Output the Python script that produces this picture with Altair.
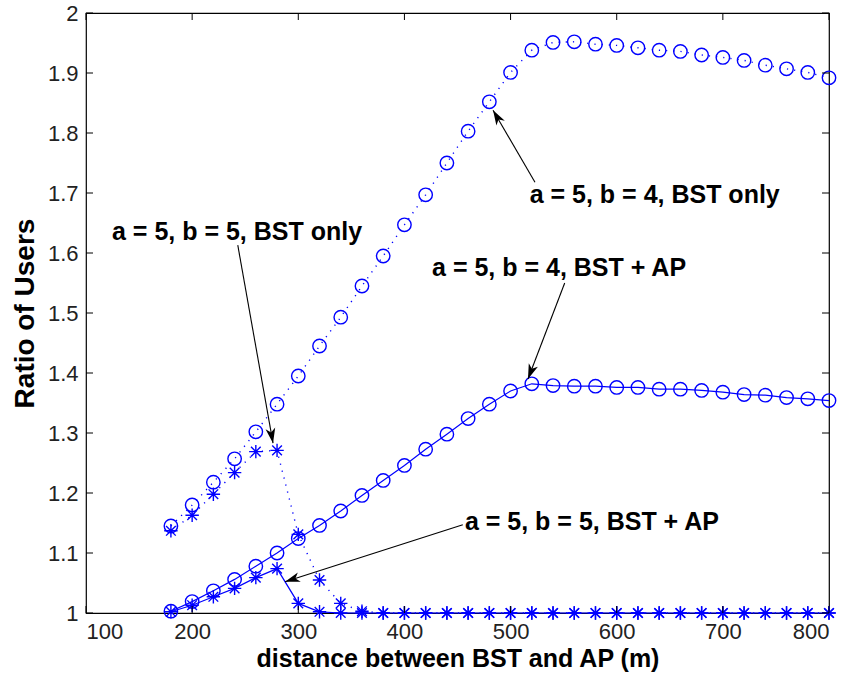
import math
import altair as alt
import pandas as pd

# Distance between base station (BST) and access point (m)
distance = [180, 200, 220, 240, 260, 280, 300, 320, 340, 360, 380, 400, 420, 440, 460, 480,
            500, 520, 540, 560, 580, 600, 620, 640, 660, 680, 700, 720, 740, 760, 780, 800]

# a = 5, b = 4, BST only
ratio_b4_bst = [1.145, 1.180, 1.218, 1.257, 1.302, 1.348, 1.395, 1.445, 1.493, 1.545, 1.595,
                1.647, 1.697, 1.750, 1.803, 1.852, 1.901, 1.938, 1.951, 1.952, 1.948, 1.946,
                1.942, 1.938, 1.936, 1.930, 1.926, 1.921, 1.913, 1.907, 1.901, 1.892]
# a = 5, b = 4, BST + AP
ratio_b4_bst_ap = [1.003, 1.019, 1.037, 1.056, 1.078, 1.100, 1.124, 1.146, 1.170, 1.196, 1.221,
                   1.246, 1.273, 1.298, 1.324, 1.348, 1.370, 1.382, 1.379, 1.378, 1.378, 1.376,
                   1.376, 1.373, 1.373, 1.371, 1.368, 1.364, 1.363, 1.359, 1.357, 1.354]
# a = 5, b = 5, BST only
ratio_b5_bst = [1.137, 1.163, 1.198, 1.234, 1.269, 1.271, 1.131, 1.055, 1.016, 1.003, 1.000,
                1.000, 1.000, 1.000, 1.000, 1.000, 1.000, 1.000, 1.000, 1.000, 1.000, 1.000,
                1.000, 1.000, 1.000, 1.000, 1.000, 1.000, 1.000, 1.000, 1.000, 1.000]
# a = 5, b = 5, BST + AP
ratio_b5_bst_ap = [1.002, 1.013, 1.027, 1.041, 1.059, 1.074, 1.016, 1.002, 1.000, 1.000, 1.000,
                   1.000, 1.000, 1.000, 1.000, 1.000, 1.000, 1.000, 1.000, 1.000, 1.000, 1.000,
                   1.000, 1.000, 1.000, 1.000, 1.000, 1.000, 1.000, 1.000, 1.000, 1.000]

x_ticks = [100, 200, 300, 400, 500, 600, 700, 800]
y_ticks = [1.0, 1.1, 1.2, 1.3, 1.4, 1.5, 1.6, 1.7, 1.8, 1.9, 2.0]

# Annotation labels with their arrows (start at the label, tip at the curve)
note_text = ["a = 5, b = 4, BST only", "a = 5, b = 5, BST only",
             "a = 5, b = 4, BST + AP", "a = 5, b = 5, BST + AP"]
note_x = [518, 124.5, 426, 457]
note_y = [1.697, 1.635, 1.575, 1.152]
arrow_x0 = [523, 243, 551, 455]
arrow_y0 = [1.718, 1.613, 1.550, 1.147]
arrow_x1 = [483.5, 276.2, 516.4, 287.5]
arrow_y1 = [1.838, 1.283, 1.390, 1.052]

W, H = 743, 600
X_DOM = [100, 800]
Y_DOM = [1, 2]
BLUE = "#0000ff"
TICK_FONT = "Liberation Sans Narrow, Arial Narrow, Liberation Sans, Arial, sans-serif"
BOLD_FONT = "Liberation Sans, Arial, Helvetica, sans-serif"

STAR = "M-1,0L1,0M0,-1L0,1M-0.72,-0.72L0.72,0.72M-0.72,0.72L0.72,-0.72"
ARROW_HEAD = "M0,0L-0.65,2L0,1.45L0.65,2Z"

x_scale = alt.Scale(domain=X_DOM, nice=False, zero=False)
y_scale = alt.Scale(domain=Y_DOM, nice=False, zero=False)

x_axis = alt.Axis(values=x_ticks, format="d", ticks=False, tickSize=0, domain=False, grid=False,
                  labelFont=TICK_FONT, labelFontSize=22, labelColor="#222222", labelPadding=8,
                  title="distance between BST and AP (m)", titleFont=BOLD_FONT, titleFontSize=25,
                  titleFontWeight="bold", titleColor="black", titlePadding=4)
y_axis = alt.Axis(values=y_ticks, format="~g", ticks=False, tickSize=0, domain=False, grid=False,
                  labelFont=TICK_FONT, labelFontSize=22, labelColor="#222222", labelPadding=8,
                  title="Ratio of Users", titleFont=BOLD_FONT, titleFontSize=28,
                  titleFontWeight="bold", titleColor="black", titlePadding=8)


def X(field):
    return alt.X(field, scale=x_scale, axis=x_axis)


def Y(field):
    return alt.Y(field, scale=y_scale, axis=y_axis)


def series_layers(values, dotted, shape):
    df = pd.DataFrame({"distance": distance, "ratio": values})
    line_kw = dict(color=BLUE, strokeWidth=1.4 if dotted else 1.2)
    if dotted:
        line_kw["strokeDash"] = [1.2, 6]
    line = alt.Chart(df).mark_line(**line_kw).encode(x=X("distance:Q"), y=Y("ratio:Q"))
    pts = alt.Chart(df).mark_point(shape=shape, size=180, filled=False, color=BLUE,
                                   strokeWidth=1.4, opacity=1).encode(
        x=X("distance:Q"), y=Y("ratio:Q"))
    return [line, pts]


layers = []
layers += series_layers(ratio_b4_bst, True, "circle")
layers += series_layers(ratio_b4_bst_ap, False, "circle")
layers += series_layers(ratio_b5_bst, True, STAR)
layers += series_layers(ratio_b5_bst_ap, False, STAR)

# Inward tick marks on all four sides of the box
xt = pd.DataFrame({"t": x_ticks})
yt = pd.DataFrame({"t": y_ticks})
tick_len = 7
layers.append(alt.Chart(xt).mark_rule(color="black", strokeWidth=1).encode(
    x=X("t:Q"), y=alt.value(H), y2=alt.value(H - tick_len)))
layers.append(alt.Chart(xt).mark_rule(color="black", strokeWidth=1).encode(
    x=X("t:Q"), y=alt.value(0), y2=alt.value(tick_len)))
layers.append(alt.Chart(yt).mark_rule(color="black", strokeWidth=1).encode(
    y=Y("t:Q"), x=alt.value(0), x2=alt.value(tick_len)))
layers.append(alt.Chart(yt).mark_rule(color="black", strokeWidth=1).encode(
    y=Y("t:Q"), x=alt.value(W), x2=alt.value(W - tick_len)))


def to_px(x, y):
    return ((x - X_DOM[0]) / (X_DOM[1] - X_DOM[0]) * W,
            (Y_DOM[1] - y) / (Y_DOM[1] - Y_DOM[0]) * H)


angles = []
for xa, ya, xb, yb in zip(arrow_x0, arrow_y0, arrow_x1, arrow_y1):
    pa, pb = to_px(xa, ya), to_px(xb, yb)
    dx, dy = pb[0] - pa[0], pb[1] - pa[1]
    angles.append(math.degrees(math.atan2(dx, -dy)) % 360)

notes = pd.DataFrame({"text": note_text, "tx": note_x, "ty": note_y,
                      "x0": arrow_x0, "y0": arrow_y0, "x1": arrow_x1, "y1": arrow_y1,
                      "angle": angles})

layers.append(alt.Chart(notes).mark_rule(color="black", strokeWidth=1.1).encode(
    x=X("x0:Q"), y=Y("y0:Q"), x2="x1:Q", y2="y1:Q"))
layers.append(alt.Chart(notes).mark_point(shape=ARROW_HEAD, size=225, filled=True, color="black",
                                          opacity=1, strokeWidth=0).encode(
    x=X("x1:Q"), y=Y("y1:Q"), angle=alt.Angle("angle:Q", scale=None)))
layers.append(alt.Chart(notes).mark_text(align="left", baseline="middle", font=BOLD_FONT,
                                         fontSize=25, fontWeight="bold", color="black").encode(
    x=X("tx:Q"), y=Y("ty:Q"), text="text:N"))

chart = alt.layer(*layers).properties(
    width=W, height=H,
    autosize=alt.AutoSizeParams(type="none"),
    padding={"left": 86, "top": 13, "right": 17, "bottom": 63},
    background="white",
).configure_view(stroke="black", strokeWidth=1.2)

chart.save("out.html", embed_options={"renderer": "svg", "actions": False})
